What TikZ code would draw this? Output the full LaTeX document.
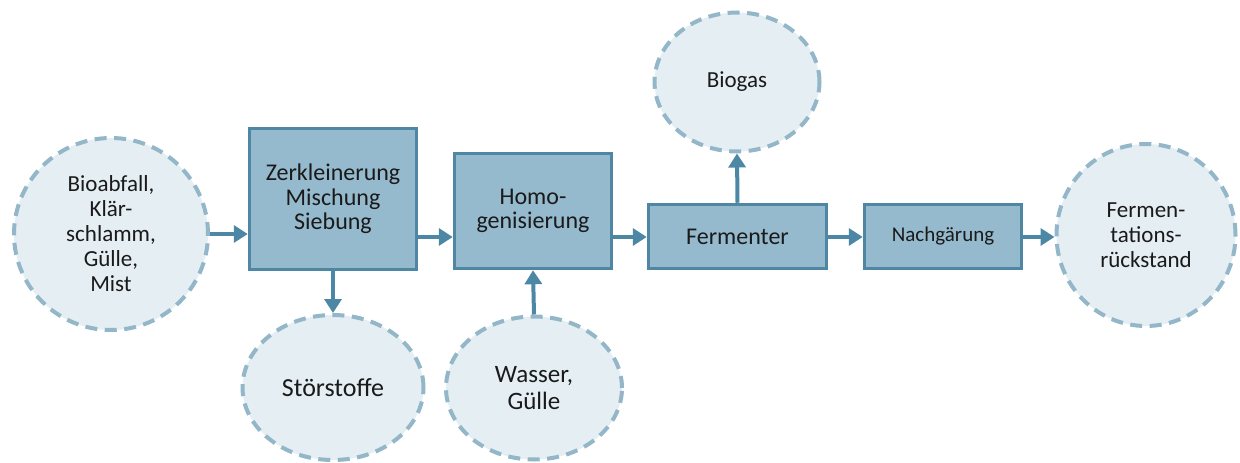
\documentclass[tikz,border=0pt]{standalone}
\usepackage{fontspec}
\setmainfont{Carlito}
\usetikzlibrary{arrows.meta,shapes.geometric}
\definecolor{boxfill}{HTML}{95BACD}
\definecolor{boxline}{HTML}{4E86A3}
\definecolor{circfill}{HTML}{E5EEF3}
\definecolor{circline}{HTML}{93B6C8}
\definecolor{arrowcol}{HTML}{4C87A5}
\definecolor{txt}{HTML}{1A1A1A}
\tikzset{
  procbox/.style={rectangle, draw=boxline, fill=boxfill, line width=3.5pt, inner sep=0pt,
    align=center, text=txt, font=\fontsize{24}{24.5}\selectfont},
  matter/.style={ellipse, draw=circline, fill=circfill, line width=4pt, inner sep=0pt,
    dash pattern=on 12pt off 7.5pt, align=center, text=txt, font=\fontsize{23}{25}\selectfont},
  flowarrow/.style={draw=arrowcol, line width=4pt, -{Triangle[length=14pt,width=17pt]}}
}
\begin{document}
\begin{tikzpicture}[x=1pt,y=-1pt]
\useasboundingbox (0,0) rectangle (1240,463);
\node[matter, minimum width=194pt, minimum height=192pt] (circ1) at (111,234)
  {Bioabfall,\\Klär-\\schlamm,\\Gülle,\\Mist};
\node[procbox, minimum width=167pt, minimum height=141pt] (box1) at (333,199)
  {Zerkleinerung\\Mischung\\Siebung};
\node[procbox, minimum width=157pt, minimum height=115pt] (box2) at (533,211)
  {Homo-\\genisierung};
\node[procbox, minimum width=178pt, minimum height=64pt] (box3) at (737.5,236.5)
  {Fermenter};
\node[procbox, minimum width=157pt, minimum height=64pt, font=\fontsize{21}{23}\selectfont] (box4) at (943,236.5)
  {Nachgärung};
\node[matter, minimum width=179pt, minimum height=182pt] (circ2) at (1146,235)
  {Fermen-\\tations-\\rückstand};
\node[matter, minimum width=165pt, minimum height=139pt] (biogas) at (737,82)
  {Biogas};
\node[matter, minimum width=181pt, minimum height=145pt, font=\fontsize{26}{28}\selectfont] (stoer) at (333,387.5)
  {Störstoffe};
\node[matter, minimum width=176pt, minimum height=143pt, font=\fontsize{25}{27}\selectfont] (wasser) at (534,388)
  {Wasser,\\Gülle};
\coordinate (flow) at (0,237);
\draw[flowarrow] (circ1.east) -- (box1.west |- circ1.east);
\draw[flowarrow] (box1.east |- flow) -- (box2.west |- flow);
\draw[flowarrow] (box2.east |- flow) -- (box3.west |- flow);
\draw[flowarrow] (box3.east |- flow) -- (box4.west |- flow);
\draw[flowarrow] (box4.east |- flow) -- (circ2.west |- flow);
\draw[flowarrow] (box1.south) -- (stoer.north);
\draw[flowarrow] (wasser.north) -- (box2.south);
\draw[flowarrow] (box3.north) -- (biogas.south);
\end{tikzpicture}
\end{document}
